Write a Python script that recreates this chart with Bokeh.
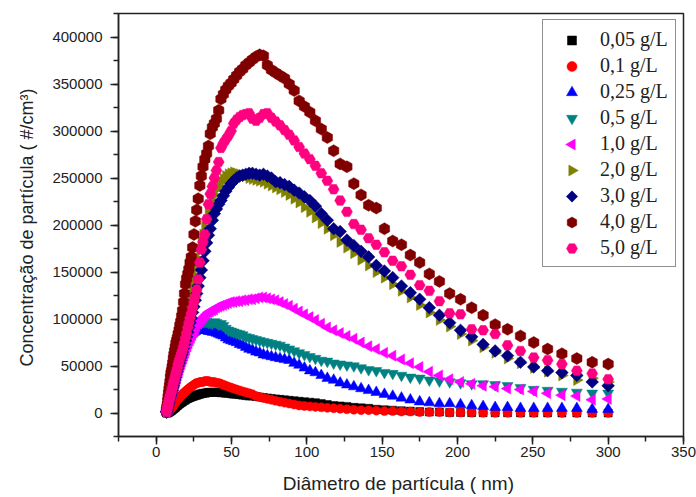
import math
from bokeh.plotting import figure
from bokeh.models import Legend, LegendItem, SingleIntervalTicker, BasicTickFormatter
from bokeh.embed import file_html
from bokeh.resources import INLINE

# Particle diameter (nm)
diameter_nm = [6.87, 7.13, 7.39, 7.66, 7.94, 8.23, 8.53, 8.84, 9.17, 9.50,
               9.85, 10.2, 10.6, 11.0, 11.4, 11.8, 12.2, 12.7, 13.1, 13.6,
               14.1, 14.6, 15.2, 15.7, 16.3, 16.9, 17.5, 18.2, 18.8, 19.5,
               20.2, 21.0, 21.7, 22.5, 23.3, 24.2, 25.1, 26.0, 26.9, 27.9,
               29.0, 30.0, 31.1, 32.3, 33.5, 34.7, 35.9, 37.3, 38.6, 40.0,
               41.5, 43.0, 44.6, 46.2, 47.9, 49.7, 51.5, 53.4, 55.4, 57.4,
               59.5, 61.7, 63.9, 66.3, 68.7, 71.2, 73.8, 76.5, 79.3, 82.2,
               85.2, 88.3, 91.6, 94.9, 98.4, 102.0, 105.7, 109.6, 113.6, 117.8,
               122.1, 126.6, 131.2, 136.0, 141.0, 146.1, 151.5, 157.0, 162.8, 168.7,
               174.9, 181.3, 188.0, 194.8, 202.0, 209.4, 217.0, 225.0, 233.2, 241.8,
               250.6, 259.8, 269.3, 279.2, 289.4, 300.0]

# Concentrations in thousands of #/cm3
c_005 = [0, 0, 0, 0.5, 0.5, 1, 1, 1.5, 2, 2,
         2.5, 3, 3.5, 4, 4.5, 5, 5.5, 6, 7, 7.5,
         8, 9, 9.5, 10, 11, 11.5, 12, 13, 13.5, 14,
         15, 15.5, 16, 16.5, 17, 17.5, 18, 18.5, 19, 19.5,
         20, 20.5, 21, 21, 21.5, 22, 22, 22, 22, 22,
         22, 21.5, 21.5, 21, 21, 20.5, 20, 20, 19.5, 19,
         18.5, 18, 18, 17.5, 17, 16.5, 16, 15.5, 15, 14.5,
         14, 13.5, 13, 12.5, 12, 11.5, 11, 10, 9, 8,
         7.5, 7, 6, 5.5, 5, 4, 3.5, 3, 2.5, 2,
         1.5, 1, 1, 0.5, 0.5, 0.3, 0.3, 0.2, 0.2, 0.1,
         0.1, 0.1, 0, 0, 0, 0]
c_01 = [0, 0, 0.5, 1, 1, 1.5, 2, 2.5, 3, 4,
        4.5, 5, 6, 7, 8, 9, 10, 11, 12, 13,
        14, 15, 16, 17, 18, 19, 20, 21, 22, 23,
        24, 25, 26, 27, 28, 29, 30, 31, 32, 32,
        33, 33, 33, 34, 34, 34, 33, 33, 33, 32,
        32, 31, 30, 29, 28, 27, 26, 25, 24, 23,
        22, 21, 20, 18, 17, 16, 15, 14, 13, 12,
        11, 10, 9, 8, 7.5, 7, 6.5, 6, 5.5, 5,
        4.5, 4, 3.5, 3, 3, 2.5, 2, 2, 1.5, 1.5,
        1, 1, 1, 0.5, 0.5, 0.5, 0.3, 0.3, 0.3, 0.2,
        0.2, 0.2, 0.1, 0.1, 0.1, 0.1]
c_025 = [1, 2, 3, 5, 7, 9, 11, 13, 15, 18,
         20, 23, 26, 29, 32, 35, 38, 41, 44, 47,
         50, 53, 56, 59, 62, 65, 68, 70, 72, 74,
         76, 78, 80, 82, 84, 85, 86, 87, 88, 88,
         89, 89, 89, 88, 88, 87, 87, 86, 86, 85,
         84, 83, 82, 80, 78, 77, 76, 75, 73, 72,
         70, 68, 67, 65, 64, 62, 61, 60, 59, 58,
         57, 56, 53, 51, 48, 45, 43, 40, 37, 35,
         32, 30, 28, 26, 24, 22, 20, 18, 16, 14,
         12, 11, 10, 10, 9, 8, 7, 6, 6, 5,
         5, 5, 5, 5, 4, 4]
c_05 = [1, 2, 3, 5, 7, 9, 11, 13, 15, 18,
        20, 23, 26, 29, 32, 35, 38, 41, 44, 47,
        50, 53, 56, 59, 62, 65, 68, 71, 74, 77,
        80, 82, 85, 87, 89, 91, 92, 93, 94, 95,
        96, 96, 97, 97, 97, 96, 96, 95, 97, 96,
        94, 95, 93, 90, 88, 87, 86, 85, 84, 83,
        81, 80, 79, 78, 77, 76, 75, 74, 73, 72,
        70, 68, 66, 64, 62, 60, 58, 56, 55, 53,
        52, 51, 50, 48, 46, 45, 43, 42, 40, 38,
        37, 35, 34, 33, 32, 31, 31, 30, 29, 27,
        25, 24, 23, 22, 21, 21]
c_10 = [1, 2, 3, 4, 5, 6, 8, 9, 11, 12,
        14, 16, 18, 20, 22, 24, 26, 29, 31, 34,
        37, 40, 43, 46, 49, 52, 55, 58, 61, 64,
        67, 71, 74, 77, 80, 83, 86, 89, 92, 95,
        97, 99, 101, 103, 105, 107, 108, 109, 110, 112,
        113, 114, 115, 116, 117, 118, 118, 119, 119, 120,
        120, 121, 121, 122, 123, 123, 122, 121, 120, 118,
        116, 114, 111, 108, 105, 102, 99, 95, 91, 88,
        85, 82, 79, 75, 71, 68, 64, 61, 57, 53,
        49, 44, 40, 36, 33, 31, 29, 28, 26, 25,
        23, 21, 19, 18, 14, 15]
c_20 = [1, 2, 4, 6, 8, 10, 12, 15, 17, 19,
        21, 24, 26, 29, 32, 35, 38, 41, 44, 47,
        51, 54, 58, 62, 66, 70, 74, 79, 84, 89,
        94, 100, 106, 113, 120, 128, 137, 146, 155, 164,
        173, 182, 190, 198, 205, 212, 219, 226, 232, 238,
        242, 246, 249, 252, 254, 255, 256, 255, 254, 253,
        252, 250, 249, 248, 247, 246, 244, 242, 240, 238,
        235, 232, 228, 224, 219, 214, 208, 202, 196, 189,
        182, 176, 170, 163, 157, 150, 144, 137, 130, 123,
        115, 107, 99, 92, 84, 77, 70, 64, 58, 53,
        48, 44, 40, 35, 37, 33]
c_30 = [1, 2, 4, 6, 8, 10, 12, 14, 16, 18,
        20, 22, 24, 27, 29, 32, 35, 38, 41, 44,
        47, 50, 53, 56, 59, 62, 65, 69, 73, 77,
        81, 86, 91, 96, 101, 107, 113, 120, 127, 135,
        144, 152, 162, 172, 181, 189, 196, 205, 212, 217,
        222, 226, 231, 236, 240, 244, 247, 250, 252, 253,
        254, 255, 255, 254, 253, 254, 252, 250, 246, 245,
        243, 241, 237, 234, 230, 226, 220, 212, 205, 196,
        193, 184, 178, 172, 166, 157, 151, 144, 135, 128,
        121, 112, 104, 96, 88, 81, 73, 66, 61, 54,
        49, 45, 43, 40, 33, 29]
c_40 = [3, 6, 9, 13, 17, 21, 25, 29, 33, 38,
        42, 45, 49, 53, 58, 62, 66, 70, 74, 77,
        80, 84, 88, 93, 97, 103, 109, 118, 127, 137,
        143, 148, 153, 160, 166, 176, 190, 204, 216, 228,
        242, 252, 262, 270, 276, 284, 297, 304, 308, 313,
        322, 334, 339, 344, 348, 351, 355, 359, 363, 366,
        370, 373, 376, 379, 381, 380, 370, 365, 362, 359,
        356, 350, 343, 332, 326, 320, 311, 302, 293, 279,
        265, 262, 244, 232, 221, 218, 196, 183, 179, 168,
        160, 148, 140, 127, 121, 112, 104, 94, 89, 82,
        75, 68, 63, 58, 54, 52]
c_50 = [1, 3, 5, 7, 9, 11, 13, 15, 17, 19,
        21, 23, 26, 28, 31, 34, 36, 39, 42, 45,
        48, 52, 55, 58, 61, 64, 67, 71, 75, 80,
        85, 91, 96, 101, 106, 112, 118, 124, 131, 142,
        160, 174, 182, 190, 206, 222, 233, 241, 250, 258,
        267, 282, 287, 291, 295, 300, 308, 312, 315, 317,
        318, 319, 313, 311, 314, 318, 319, 314, 310, 306,
        301, 296, 290, 283, 276, 270, 263, 255, 247, 238,
        226, 214, 201, 195, 186, 179, 171, 162, 156, 147,
        136, 130, 119, 106, 105, 89, 88, 84, 72, 66,
        59, 56, 52, 45, 42, 36]

labels = ["0,05 g/L", "0,1 g/L", "0,25 g/L", "0,5 g/L", "1,0 g/L",
          "2,0 g/L", "3,0 g/L", "4,0 g/L", "5,0 g/L"]
values = [c_005, c_01, c_025, c_05, c_10, c_20, c_30, c_40, c_50]
markers = ["square", "circle", "triangle", "inverted_triangle", "triangle",
           "triangle", "square", "hex", "hex"]
angles = [0, 0, 0, 0, math.pi / 2, -math.pi / 2, math.pi / 4, math.pi / 2, 0]
colors = ["#000000", "#FF0000", "#0000FF", "#008080", "#FF00FF",
          "#808000", "#000080", "#800000", "#FF0080"]
sizes = [8, 9, 11, 11, 11, 11, 9, 12, 11]
legend_sizes = [9, 10, 11, 11, 11, 11, 8, 11, 11]

# layout
W, H = 696, 497
B_LEFT, B_RIGHT, B_TOP, B_BOTTOM = 118, 13, 13, 61
X0, X1 = -25, 350
Y0, Y1 = -25000, 425000
FRAME_W = W - B_LEFT - B_RIGHT
FRAME_H = H - B_TOP - B_BOTTOM

p = figure(width=W, height=H, x_range=(X0, X1), y_range=(Y0, Y1),
           output_backend="svg", toolbar_location=None,
           min_border_left=B_LEFT, min_border_right=B_RIGHT,
           min_border_top=B_TOP, min_border_bottom=B_BOTTOM)
p.background_fill_color = "white"
p.border_fill_color = "white"
p.outline_line_color = "#222222"
p.outline_line_width = 1.5
p.xgrid.visible = False
p.ygrid.visible = False

# legend geometry (screen px relative to frame bottom-left)
LEG_X, LEG_Y = 424, 169
PAD, GW, GH, SP, STAND = 7, 45, 24, 2, 5
n = len(labels)
leg_h = 2 * PAD + n * GH + (n - 1) * SP

items = []
for lab, vals, mk, ang, col, sz in zip(labels, values, markers, angles, colors, sizes):
    ys = [v * 1000 for v in vals]
    p.scatter(diameter_nm, ys, marker=mk, angle=ang, size=sz,
              fill_color=col, line_color=col, line_width=0.5)
    dummy = p.scatter([], [], marker=mk, fill_alpha=0, line_alpha=0)
    items.append(LegendItem(label=lab, renderers=[dummy]))

legend = Legend(items=items, location=(LEG_X, LEG_Y))
legend.label_text_font = "Liberation Serif"
legend.label_text_font_size = "20px"
legend.label_text_color = "#222222"
legend.glyph_width = GW
legend.glyph_height = GH
legend.label_height = GH
legend.spacing = SP
legend.padding = PAD
legend.margin = 0
legend.label_standoff = STAND
legend.border_line_color = "#222222"
legend.border_line_width = 1.5
legend.background_fill_alpha = 0.0
p.add_layout(legend)

# legend symbols (drawn as glyphs so rotated markers keep their orientation)
sx_px = LEG_X + PAD + GW / 2
for i, (mk, ang, col, sz) in enumerate(zip(markers, angles, colors, legend_sizes)):
    sy_px = LEG_Y + leg_h - PAD - GH / 2 - i * (GH + SP)
    lx = X0 + sx_px * (X1 - X0) / FRAME_W
    ly = Y0 + sy_px * (Y1 - Y0) / FRAME_H
    p.scatter([lx], [ly], marker=mk, angle=ang, size=sz, fill_color=col,
              line_color=col, line_width=0.5)

for ax in (p.xaxis[0], p.yaxis[0]):
    ax.axis_line_color = "#222222"
    ax.axis_line_width = 1.5
    ax.major_tick_line_color = "#222222"
    ax.minor_tick_line_color = "#222222"
    ax.major_tick_line_width = 1.5
    ax.minor_tick_line_width = 1.5
    ax.major_tick_out = 8
    ax.major_tick_in = 0
    ax.minor_tick_out = 5
    ax.minor_tick_in = 0
    ax.major_label_text_font = "Liberation Sans"
    ax.major_label_text_font_size = "15px"
    ax.major_label_text_color = "#222222"
    ax.axis_label_text_font = "Liberation Sans"
    ax.axis_label_text_font_style = "normal"
    ax.axis_label_text_color = "#222222"

p.xaxis[0].ticker = SingleIntervalTicker(interval=50, num_minor_ticks=2)
p.yaxis[0].ticker = SingleIntervalTicker(interval=50000, num_minor_ticks=2)
p.yaxis[0].formatter = BasicTickFormatter(use_scientific=False)
p.xaxis[0].axis_label = "Diâmetro de partícula  ( nm)"
p.yaxis[0].axis_label = "Concentração de partícula  ( #/cm³)"
p.xaxis[0].axis_label_text_font_size = "19px"
p.yaxis[0].axis_label_text_font_size = "18px"
p.xaxis[0].major_label_standoff = 2
p.yaxis[0].major_label_standoff = 8
p.xaxis[0].axis_label_standoff = 13
p.yaxis[0].axis_label_standoff = 12

open("out.html", "w").write(file_html(p, INLINE))
